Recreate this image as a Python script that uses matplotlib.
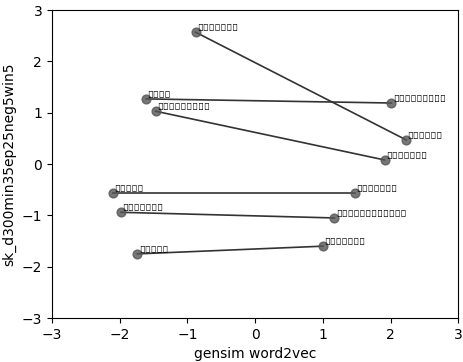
import matplotlib
matplotlib.use("Agg")
import matplotlib.pyplot as plt

# word pairs: person -> country
people = ["জাস্টিন", "বরিস", "ইমানুয়েল", "ওবামা", "ট্রাম্প", "পুতিন"]
countries = ["কানাডা", "ইংল্যান্ড", "ফ্রান্স", "আমেরিকা", "যুক্তরাষ্ট্র", "রাশিয়া"]
people_x = [-0.88, -1.61, -1.47, -2.10, -1.98, -1.74]
people_y = [2.57, 1.27, 1.03, -0.57, -0.94, -1.75]
country_x = [2.23, 2.01, 1.91, 1.47, 1.17, 1.00]
country_y = [0.47, 1.19, 0.08, -0.57, -1.05, -1.60]

fig, ax = plt.subplots(figsize=(4.64, 3.62), dpi=100)
fig.subplots_adjust(left=0.112, right=0.988, top=0.972, bottom=0.1215)

for i in range(len(people)):
    ax.plot([people_x[i], country_x[i]], [people_y[i], country_y[i]],
            color="#333333", linewidth=1.2)

all_x = people_x + country_x
all_y = people_y + country_y
all_words = people + countries
ax.scatter(all_x, all_y, s=40, color="#555555", alpha=0.8, zorder=3)
for w, x, y in zip(all_words, all_x, all_y):
    ax.text(x + 0.02, y + 0.02, w, fontsize=7,
            family=["Noto Sans", "DejaVu Sans"])

ax.set_xlim(-3, 3)
ax.set_ylim(-3, 3)
ax.set_xlabel("gensim word2vec")
ax.set_ylabel("sk_d300min35ep25neg5win5")

fig.savefig("out.png", dpi=100)
